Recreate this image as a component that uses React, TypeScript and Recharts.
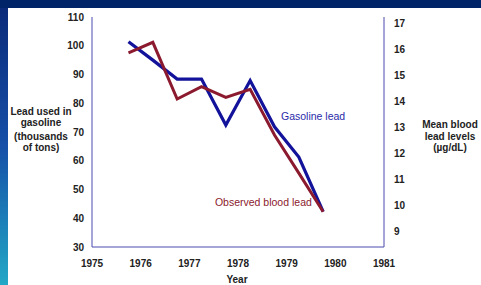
import React from 'react';
import { LineChart, Line, XAxis, YAxis, ReferenceDot, Label } from 'recharts';

const years = [1975.75, 1976.25, 1976.75, 1977.25, 1977.75, 1978.25, 1978.75, 1979.25, 1979.75];
const gasolineLead = [101.4, 95.0, 88.4, 88.4, 72.4, 87.9, 71.8, 61.3, 42.3];
const bloodLead = [15.86, 16.26, 14.09, 14.56, 14.15, 14.46, 12.71, 11.25, 9.77];
const xTicks = [1975, 1976, 1977, 1978, 1979, 1980, 1981];
const leftTicks = [30, 40, 50, 60, 70, 80, 90, 100, 110];
const rightTicks = [9, 10, 11, 12, 13, 14, 15, 16, 17];
const leftTitle = ['Lead used in', 'gasoline', '(thousands', 'of tons)'];
const rightTitle = ['Mean blood', 'lead levels', '(\u00b5g/dL)'];

const data = years.map((y, i) => ({ year: y, gas: gasolineLead[i], blood: bloodLead[i] }));

const FONT = '"Liberation Sans", Arial, sans-serif';
const AXIS = '#4b4bb0';
const BLUE = '#12129a';
const RED = '#8b1a2e';
const TEXT = '#222';

const tickStyle = { fontSize: 10, fontWeight: 700, fill: TEXT, fontFamily: FONT };
const leftTitleY = [115, 126, 140, 151];

export default function App() {
  return (
    <div style={{ position: 'absolute', left: 0, top: 0, width: 481, height: 285, background: '#fff', overflow: 'hidden', fontFamily: FONT }}>
      <div style={{ position: 'absolute', left: 0, top: 0, width: 481, height: 8, background: '#002468' }} />
      <div style={{ position: 'absolute', left: 0, top: 8, width: 8, height: 277, background: 'linear-gradient(to bottom, #0b2b7a 0%, #1650a8 50%, #22a8c6 100%)' }} />
      <div style={{ position: 'absolute', left: 0, top: 0 }}>
        <LineChart width={481} height={285} data={data} margin={{ top: 17, right: 0, bottom: 0, left: 0 }}>
          <XAxis
            dataKey="year"
            type="number"
            domain={[1975, 1981]}
            ticks={xTicks}
            height={38}
            axisLine={{ stroke: AXIS, strokeWidth: 1 }}
            tickLine={false}
            tickMargin={7}
            tick={tickStyle}
            interval={0}
          >
            <Label
              content={(props: any) => {
                const vb = props.viewBox;
                return (
                  <text x={vb.x + vb.width / 2 - 1} y={vb.y + 36} textAnchor="middle" fontSize={10} fontWeight={700} fill={TEXT} fontFamily={FONT}>
                    Year
                  </text>
                );
              }}
            />
          </XAxis>
          <YAxis
            yAxisId="left"
            orientation="left"
            domain={[30, 110]}
            ticks={leftTicks}
            width={92}
            axisLine={{ stroke: AXIS, strokeWidth: 1 }}
            tickLine={false}
            tick={tickStyle}
            interval={0}
          >
            <Label
              content={() => (
                <g>
                  {leftTitle.map((t, i) => (
                    <text key={i} x={41} y={leftTitleY[i]} textAnchor="middle" fontSize={10} fontWeight={700} fill={TEXT} fontFamily={FONT}>
                      {t}
                    </text>
                  ))}
                </g>
              )}
            />
          </YAxis>
          <YAxis
            yAxisId="right"
            orientation="right"
            domain={[8.42, 17.23]}
            ticks={rightTicks}
            width={97}
            axisLine={{ stroke: AXIS, strokeWidth: 1 }}
            tickLine={false}
            tickMargin={4}
            tick={tickStyle}
            interval={0}
          >
            <Label
              content={(props: any) => {
                const vb = props.viewBox;
                return (
                  <g>
                    {rightTitle.map((t, i) => (
                      <text key={i} x={vb.x + 66} y={128 + i * 11.5} textAnchor="middle" fontSize={10} fontWeight={700} fill={TEXT} fontFamily={FONT}>
                        {t}
                      </text>
                    ))}
                  </g>
                );
              }}
            />
          </YAxis>
          <Line yAxisId="left" dataKey="gas" stroke={BLUE} strokeWidth={3.2} dot={false} isAnimationActive={false} strokeLinejoin="miter" />
          <Line yAxisId="right" dataKey="blood" stroke={RED} strokeWidth={3} dot={false} isAnimationActive={false} strokeLinejoin="miter" />
          <ReferenceDot
            yAxisId="left"
            x={1978.76}
            y={75.6}
            r={1}
            fill="none"
            stroke="none"
            label={{ value: 'Gasoline lead', position: 'right', offset: 5, fill: '#2a2aaa', fontSize: 10.5, fontFamily: FONT }}
          />
          <ReferenceDot
            yAxisId="right"
            x={1979.64}
            y={10.15}
            r={1}
            fill="none"
            stroke="none"
            label={{ value: 'Observed blood lead', position: 'left', offset: 5, fill: '#8b1a2e', fontSize: 10.5, fontFamily: FONT }}
          />
        </LineChart>
      </div>
    </div>
  );
}
